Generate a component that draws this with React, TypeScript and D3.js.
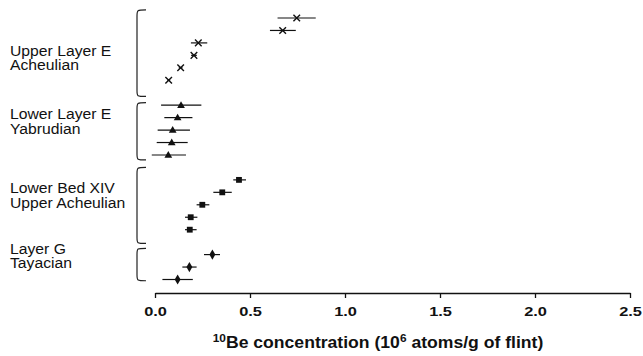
import React, { useRef, useEffect } from 'react';
import * as d3 from 'd3';

// group labels (two lines each) and their vertical position in row units
const groupLine1 = ['Upper Layer E', 'Lower Layer E', 'Lower Bed XIV', 'Layer G'];
const groupLine2 = ['Acheulian', 'Yabrudian', 'Upper Acheulian', 'Tayacian'];
const groupLabelRow = [3.6, 8.7, 14.65, 19.5];
// bracket extents (row units)
const bracketTop = [-0.65, 6.8, 12.0, 18.5];
const bracketBottom = [6.3, 11.4, 18.1, 21.1];

// 10Be concentrations (10^6 atoms/g) with error bar limits
const crossVal = [0.746, 0.672, 0.228, 0.205, 0.135, 0.072];
const crossLo = [0.645, 0.605, 0.189, 0.19, 0.125, 0.065];
const crossHi = [0.846, 0.741, 0.275, 0.22, 0.145, 0.08];

const triVal = [0.137, 0.119, 0.093, 0.088, 0.070];
const triLo = [0.032, 0.049, 0.014, 0.009, -0.017];
const triHi = [0.244, 0.197, 0.184, 0.172, 0.163];

const sqVal = [0.442, 0.354, 0.249, 0.188, 0.183];
const sqLo = [0.412, 0.307, 0.219, 0.158, 0.158];
const sqHi = [0.479, 0.404, 0.286, 0.223, 0.219];

const diaVal = [0.302, 0.181, 0.119];
const diaLo = [0.258, 0.144, 0.039];
const diaHi = [0.342, 0.219, 0.199];

const xTicks = [0, 0.5, 1.0, 1.5, 2.0, 2.5];

// widen text a little, like the source figure
function stretch(sel: any, k: number) {
  sel.each(function (this: SVGTextElement) {
    const w = this.getComputedTextLength();
    this.setAttribute('textLength', String(w * k));
    this.setAttribute('lengthAdjust', 'spacingAndGlyphs');
  });
}

function App() {
  const ref = useRef<SVGSVGElement>(null);

  useEffect(() => {
    const svg = d3.select(ref.current);
    svg.selectAll('*').remove();
    const font = 'Liberation Sans, Arial, sans-serif';

    const x = d3.scaleLinear().domain([0, 2.5]).range([155, 630]);
    const y = d3.scaleLinear().domain([0, 21]).range([18, 279.5]);

    const series = [
      { val: crossVal, lo: crossLo, hi: crossHi, start: 0, sym: d3.symbolCross, size: 40, thin: true },
      { val: triVal, lo: triLo, hi: triHi, start: 7, sym: d3.symbolTriangle, size: 26, thin: false },
      { val: sqVal, lo: sqLo, hi: sqHi, start: 13, sym: d3.symbolSquare, size: 34, thin: false },
      { val: diaVal, lo: diaLo, hi: diaHi, start: 19, sym: d3.symbolDiamond, size: 30, thin: false },
    ];

    series.forEach(s => {
      const rows = s.val.map((v, i) => ({ v, lo: s.lo[i], hi: s.hi[i], r: s.start + i }));
      const g = svg.append('g');
      g.selectAll('line')
        .data(rows)
        .join('line')
        .attr('x1', d => x(d.lo))
        .attr('x2', d => x(d.hi))
        .attr('y1', d => y(d.r))
        .attr('y2', d => y(d.r))
        .attr('stroke', '#111')
        .attr('stroke-width', 1.2);
      if (s.thin) {
        // X marks drawn as two strokes
        const h = 3.3;
        rows.forEach(d => {
          const cx = x(d.v), cy = y(d.r);
          g.append('path')
            .attr('d', `M${cx - h},${cy - h}L${cx + h},${cy + h}M${cx - h},${cy + h}L${cx + h},${cy - h}`)
            .attr('stroke', '#111')
            .attr('stroke-width', 1.4)
            .attr('fill', 'none');
        });
      } else {
        g.selectAll('path')
          .data(rows)
          .join('path')
          .attr('d', d3.symbol().type(s.sym).size(s.size)())
          .attr('transform', d => `translate(${x(d.v)},${y(d.r) + (s.sym === d3.symbolTriangle ? 0.5 : 0)})`)
          .attr('fill', '#111');
      }
    });

    // brackets
    groupLine1.forEach((_, i) => {
      const t = y(bracketTop[i]), b = y(bracketBottom[i]);
      const xl = 137, xr = 146, c = 6;
      svg.append('path')
        .attr('d', `M${xr},${t}C${xl},${t} ${xl},${t} ${xl},${t + c}L${xl},${b - c}C${xl},${b} ${xl},${b} ${xr},${b}`)
        .attr('fill', 'none')
        .attr('stroke', '#222')
        .attr('stroke-width', 1.2);
    });

    // group labels
    groupLine1.forEach((l1, i) => {
      const cy = y(groupLabelRow[i]);
      const a = svg.append('text')
        .attr('x', 10).attr('y', cy - 7)
        .attr('font-family', font).attr('font-size', 14.7).attr('fill', '#111')
        .text(l1);
      const b = svg.append('text')
        .attr('x', 10).attr('y', cy + 7.2)
        .attr('font-family', font).attr('font-size', 14.7).attr('fill', '#111')
        .text(groupLine2[i]);
      stretch(a, 1.07);
      stretch(b, 1.07);
    });

    // x axis
    const axis = svg.append('g').attr('transform', 'translate(0,293)');
    axis.call(d3.axisBottom(x).tickValues(xTicks).tickFormat(d3.format('.1f')).tickSize(5).tickSizeOuter(0));
    axis.select('.domain').attr('stroke', '#111').attr('stroke-width', 1.3);
    axis.selectAll('.tick line').attr('stroke', '#111').attr('stroke-width', 1.3);
    const tickText = axis.selectAll('.tick text')
      .attr('font-family', font)
      .attr('font-size', 12.8)
      .attr('font-weight', 'bold')
      .attr('fill', '#111')
      .attr('dy', null)
      .attr('y', 22.7);
    stretch(tickText, 1.28);

    const title = svg.append('text')
      .attr('x', 378)
      .attr('y', 348)
      .attr('text-anchor', 'middle')
      .attr('font-family', font)
      .attr('font-size', 16.3)
      .attr('font-weight', 'bold')
      .attr('fill', '#111');
    title.append('tspan').attr('font-size', 11).attr('dy', -6.5).text('10');
    title.append('tspan').attr('dy', 6.5).text('Be concentration (10');
    title.append('tspan').attr('font-size', 11).attr('dy', -6.5).text('6');
    title.append('tspan').attr('dy', 6.5).text(' atoms/g of flint)');
    stretch(title, 1.08);
  }, []);

  return (
    <svg ref={ref} width={643} height={356} style={{ position: 'absolute', left: 0, top: 0, background: '#fff' }} />
  );
}

export default App;
